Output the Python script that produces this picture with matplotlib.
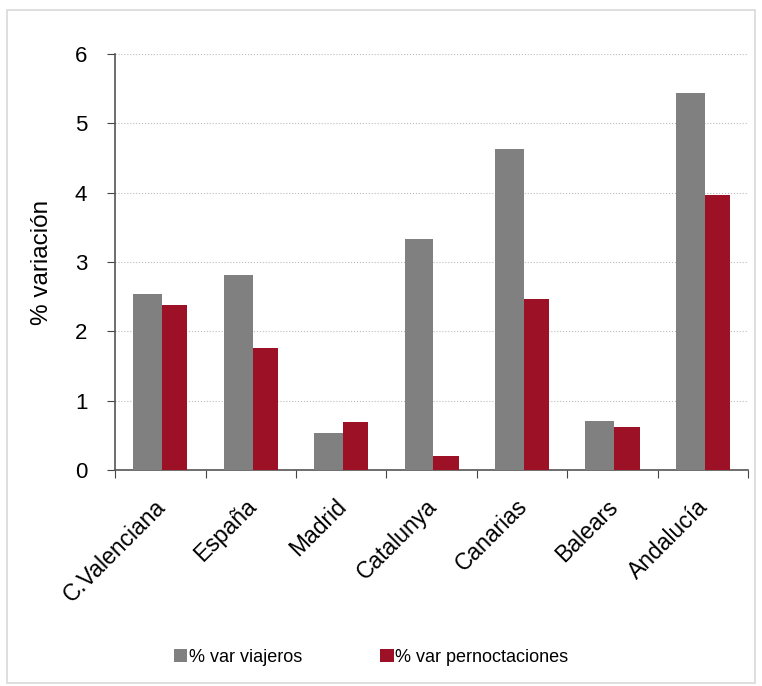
import matplotlib.pyplot as plt
import numpy as np
from matplotlib.patches import Rectangle

plt.rcParams['font.family'] = ['Liberation Sans', 'DejaVu Sans']

## Datos
regiones = ['C.Valenciana', 'España', 'Madrid', 'Catalunya', 'Canarias', 'Balears', 'Andalucía']
var_viajeros = [2.54, 2.81, 0.53, 3.33, 4.63, 0.71, 5.44]
var_pernoctaciones = [2.38, 1.76, 0.69, 0.20, 2.47, 0.62, 3.97]

gris = '#808080'
rojo = '#9D1126'

fig = plt.figure(figsize=(7.62, 6.86), dpi=100)
ax = fig.add_axes([0.151, 0.315, 0.831, 0.606])

x = np.arange(len(regiones))
ax.bar(x - 0.14, var_viajeros, width=0.32, color=gris, label='% var viajeros', zorder=3)
ax.bar(x + 0.16, var_pernoctaciones, width=0.28, color=rojo, label='% var pernoctaciones', zorder=3)

## Ejes y rejilla
ax.set_xlim(-0.5, len(regiones) - 0.5)
ax.set_ylim(0, 6)
ax.set_yticks(range(0, 7))
ax.yaxis.grid(True, linestyle=':', color='#bbbbbb', linewidth=0.8, zorder=0)
ax.set_xticks(np.arange(-0.5, len(regiones), 1), minor=False)
ax.set_xticklabels([])
ax.set_xticks(x - 0.07, minor=True)
ax.set_xticklabels(regiones, minor=True, rotation=45, ha='right', rotation_mode='anchor', fontsize=16.5)
ax.tick_params(axis='x', which='minor', length=0, pad=18)
ax.tick_params(axis='x', which='major', length=6, color='#444444', direction='out')
ax.tick_params(axis='y', length=6, color='#444444', labelsize=16, pad=14)
for s in ['top', 'right']:
    ax.spines[s].set_visible(False)
for s in ['left', 'bottom']:
    ax.spines[s].set_color('#555555')
    ax.spines[s].set_linewidth(1.2)
ax.set_ylabel('% variación', fontsize=17.5, labelpad=16)

## Leyenda
fig.legend(loc='center', bbox_to_anchor=(0.487, 0.042), ncol=2, frameon=False, fontsize=13,
           handlelength=0.75, handleheight=0.75, handletextpad=0.1, columnspacing=4.3)

## Marco exterior
fig.patches.append(Rectangle((0.009, 0.005), 0.982, 0.981, transform=fig.transFigure,
                             fill=False, edgecolor='#d9d9d9', linewidth=1.2))

plt.savefig('out.png', dpi=100)
